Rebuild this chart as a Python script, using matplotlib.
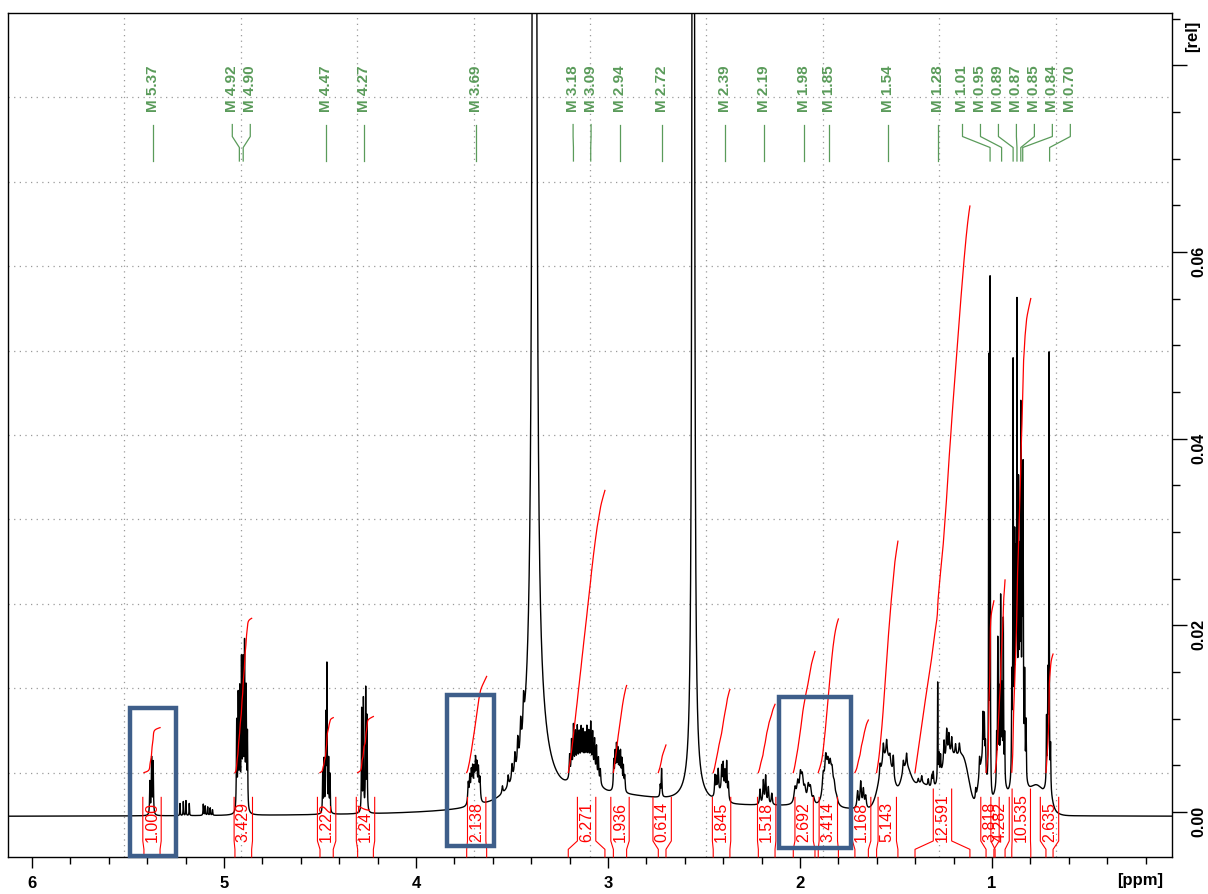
import numpy as np
import matplotlib.pyplot as plt
from matplotlib.patches import Rectangle

plt.rcParams['font.family'] = ['Liberation Sans', 'DejaVu Sans']

# ---------------- data ----------------
# sharp lines: position [ppm], height [rel], half width [ppm]
line_ppm = [3.383, 3.38, 2.556, 2.556, 3.00,
            5.386, 5.377, 5.369,
            5.229, 5.212, 5.198, 5.181, 5.108, 5.098, 5.085, 5.072, 5.060,
            4.934, 4.926, 4.918, 4.909, 4.901, 4.893, 4.885, 4.878,
            4.486, 4.479, 4.470, 4.464, 4.455, 4.448,
            4.283, 4.274, 4.262, 4.255,
            3.728, 3.720, 3.712, 3.705, 3.697, 3.690, 3.683, 3.675, 3.667,
            3.550, 3.520, 3.500, 3.485, 3.470, 3.455, 3.440,
            3.200, 3.190, 3.180, 3.170, 3.160, 3.150, 3.140, 3.130, 3.120,
            3.110, 3.100, 3.090, 3.080, 3.070, 3.060, 3.050, 3.040,
            2.970, 2.963, 2.956, 2.949, 2.942, 2.935, 2.928, 2.920, 2.913,
            2.728, 2.721,
            2.443, 2.435, 2.426, 2.408, 2.400, 2.391, 2.382, 2.373,
            2.208, 2.191, 2.179, 2.165, 2.147,
            2.026, 2.012, 1.998, 1.988, 1.975, 1.957, 1.946, 1.930,
            1.879, 1.866, 1.855, 1.843, 1.833, 1.822, 1.810,
            1.700, 1.684, 1.670, 1.658,
            1.583, 1.566, 1.549, 1.532, 1.514,
            1.462, 1.445, 1.384, 1.366, 1.332, 1.314, 1.306,
            1.283, 1.276, 1.268,
            1.250, 1.236, 1.225, 1.210, 1.190, 1.170,
            1.085, 1.065, 1.047, 1.040, 1.034,
            1.017, 1.010,
            0.976, 0.970, 0.963, 0.955, 0.948, 0.941, 0.934,
            0.897, 0.890, 0.882, 0.876, 0.870, 0.862, 0.856, 0.850, 0.843,
            0.838, 0.830, 0.823,
            0.716, 0.709, 0.703, 0.695]
line_height = [1.0, 0.010, 1.0, 0.0015, 0.0022,
               0.0035, 0.0060, 0.0056,
               0.0013, 0.0015, 0.0016, 0.0013, 0.0012, 0.0010, 0.0009, 0.0008, 0.0006,
               0.0095, 0.0120, 0.0125, 0.0155, 0.0152, 0.0172, 0.0125, 0.0080,
               0.0042, 0.0055, 0.0100, 0.0155, 0.0055, 0.0040,
               0.0110, 0.0120, 0.0130, 0.0100,
               0.0022, 0.0027, 0.0030, 0.0033, 0.0030, 0.0040, 0.0035, 0.0033, 0.0024,
               0.0008, 0.0012, 0.0016, 0.0020, 0.0026, 0.0030, 0.0032,
               0.0025, 0.0038, 0.0052, 0.0042, 0.0046, 0.0038, 0.0042, 0.0038, 0.0034,
               0.0042, 0.0038, 0.0050, 0.0042, 0.0038, 0.0034, 0.0025, 0.0016,
               0.0030, 0.0036, 0.0043, 0.0038, 0.0034, 0.0037, 0.0030, 0.0025, 0.0016,
               0.0012, 0.0030,
               0.0022, 0.0018, 0.0025, 0.0026, 0.0030, 0.0024, 0.0038, 0.0018,
               0.0016, 0.0025, 0.0030, 0.0018, 0.0012,
               0.0016, 0.0020, 0.0027, 0.0024, 0.0014, 0.0018, 0.0016, 0.0007,
               0.0022, 0.0034, 0.0024, 0.0024, 0.0021, 0.0013, 0.0005,
               0.0018, 0.0028, 0.0020, 0.0013,
               0.0012, 0.0018, 0.0016, 0.0008, 0.0022,
               0.0012, 0.0014, 0.0005, 0.0008, 0.0008, 0.0012, 0.0016,
               0.0105, 0.0025, 0.0020,
               0.0025, 0.0030, 0.0022, 0.0018, 0.0012, 0.0012,
               0.0010, 0.0018, 0.0050, 0.0052, 0.0030,
               0.046, 0.055,
               0.0050, 0.0150, 0.0090, 0.0190, 0.0090, 0.0170, 0.0050,
               0.010, 0.043, 0.022, 0.018, 0.046, 0.026, 0.018, 0.035, 0.026,
               0.030, 0.010, 0.006,
               0.0070, 0.0110, 0.046, 0.0045]
line_width = ([0.0036, 0.06, 0.0021, 0.05, 0.45]
              + [0.0018] * 3 + [0.0012] * 4 + [0.0015] * 5
              + [0.0018] * 8 + [0.0015] * 6 + [0.0015] * 4
              + [0.003] * 9 + [0.003] * 7 + [0.0025] * 17
              + [0.0025] * 9 + [0.002] * 2 + [0.0025] * 8 + [0.003] * 5
              + [0.006] * 8 + [0.006] * 7 + [0.004] * 4 + [0.003] * 5
              + [0.003] * 7 + [0.0012, 0.002, 0.002] + [0.003] * 6
              + [0.002] * 5 + [0.0012] * 2 + [0.0015] * 7
              + [0.0015] * 12 + [0.0015, 0.0015, 0.0012, 0.0015])

# broad envelopes: position [ppm], height [rel], sigma [ppm]
hump_ppm = [3.12, 2.41, 1.85, 2.00, 1.55, 1.45, 1.37, 1.22, 1.145, 1.05,
            0.955, 0.865, 0.77, 0.705]
hump_height = [0.0022, 0.0010, 0.0015, 0.0007, 0.0060, 0.0035, 0.0032, 0.0060,
               0.0045, 0.0055, 0.0035, 0.0060, 0.0032, 0.0015]
hump_sigma = [0.05, 0.02, 0.025, 0.35, 0.035, 0.025, 0.06, 0.045, 0.03, 0.02,
              0.03, 0.025, 0.05, 0.015]
baseline_offset = -0.0005

# integrals: left limit, right limit [ppm], value
int_left = [5.417, 4.943, 4.500, 4.304, 3.736, 3.207, 2.972, 2.738, 2.452, 2.217,
            2.035, 1.905, 1.714, 1.601, 1.401, 1.031, 0.984, 0.897, 0.719]
int_right = [5.333, 4.856, 4.431, 4.222, 3.632, 3.016, 2.903, 2.698, 2.365, 2.130,
             1.922, 1.800, 1.644, 1.490, 1.115, 0.990, 0.932, 0.798, 0.682]
int_value = [1.000, 3.429, 1.222, 1.247, 2.138, 6.271, 1.936, 0.614, 1.845, 1.518,
             2.692, 3.414, 1.168, 5.143, 12.591, 3.818, 4.282, 10.535, 2.635]

# peak picking labels
peak_ppm = [5.37, 4.92, 4.90, 4.47, 4.27, 3.69, 3.18, 3.09, 2.94, 2.72, 2.39, 2.19,
            1.98, 1.85, 1.54, 1.28, 1.01, 0.95, 0.89, 0.87, 0.85, 0.84, 0.70]

# highlighted regions: ppm from, ppm to, rel from, rel to
box_ppm_left = [5.488, 3.839, 2.111]
box_ppm_right = [5.249, 3.595, 1.733]
box_rel_low = [-0.0047, -0.0036, -0.0039]
box_rel_high = [0.0111, 0.0125, 0.0123]

# ---------------- build spectrum ----------------
ppm = np.linspace(6.125, 0.0625, 60001)
spec = np.full_like(ppm, baseline_offset)
for p, h, w in zip(line_ppm, line_height, line_width):
    spec += h * w ** 2 / (w ** 2 + (ppm - p) ** 2)
for p, h, s in zip(hump_ppm, hump_height, hump_sigma):
    spec += h * np.exp(-0.5 * ((ppm - p) / s) ** 2)

xmin, xmax = 6.125, 0.0625
ymin, ymax = -0.00482, 0.08561
px_ppm = 1140 / (xmin - xmax)        # pixels per ppm
px_rel = 844 / (ymax - ymin)         # pixels per rel unit

fig = plt.figure(figsize=(12.08, 8.94), dpi=100)
ax = fig.add_axes([8 / 1208, 37 / 894, 1164 / 1208, 844 / 894])
ax.set_xlim(xmin, xmax)
ax.set_ylim(ymin, ymax)

# dotted grid dividing the frame into 10 x 10
for k in range(1, 10):
    ax.axvline(xmin + k * (xmax - xmin) / 10, color='#9a9a9a', lw=0.9,
               ls=(0, (1, 3.5)), zorder=0)
    ax.axhline(ymin + k * (ymax - ymin) / 10, color='#9a9a9a', lw=0.9,
               ls=(0, (1, 3.5)), zorder=0)

ax.plot(ppm, spec, color='black', lw=1.0, zorder=3)

# integrals
red = '#ff0000'
int_start = 0.00422
int_unit = 45 / px_rel
for lft, rgt, val in zip(int_left, int_right, int_value):
    m = (ppm <= lft) & (ppm >= rgt)
    seg = spec[m] - baseline_offset
    cum = np.cumsum(seg)
    ax.plot(ppm[m], int_start + val * int_unit * cum / cum[-1], color=red, lw=0.9,
            zorder=4)

    label = f'{val:.3f}'
    xc = (lft + rgt) / 2
    hw = 9 / px_ppm
    y_txt = -0.0032
    y_top = y_txt + (len(label) * 8.3 + 3) / px_rel
    y_k1 = -0.0031
    y_k2 = -0.0040
    for xe, xb in ((xc + hw, lft), (xc - hw, rgt)):
        ax.plot([xe, xe, xb, xb], [y_top, y_k1, y_k2, ymin], color=red, lw=0.8,
                zorder=4, clip_on=False)
    ax.text(xc, y_txt, label, rotation=90, ha='center', va='bottom', color=red,
            fontsize=11.5, zorder=5)

# peak labels, spread apart when they crowd
green = '#5a9b5a'
gap = 17.6 / px_ppm
order = sorted(range(len(peak_ppm)), key=lambda i: -peak_ppm[i])
blocks = []
for i in order:
    blocks.append([-peak_ppm[i]])
    while len(blocks) > 1:
        prev, cur = blocks[-2], blocks[-1]
        prev_start = np.mean(prev) - (len(prev) - 1) * gap / 2
        cur_start = np.mean(cur) - (len(cur) - 1) * gap / 2
        if prev_start + len(prev) * gap > cur_start:
            blocks[-2:] = [prev + cur]
        else:
            break
label_pos = []
for b in blocks:
    start = np.mean(b) - (len(b) - 1) * gap / 2
    label_pos += [-(start + k * gap) for k in range(len(b))]

ya, yb, yc, yd = [(812 - v) / px_rel for v in (124.5, 136.5, 147.5, 161)]
for i, lx in zip(order, label_pos):
    p = peak_ppm[i]
    ax.text(lx, (812 - 112) / px_rel, f'M {p:.2f}', rotation=90, ha='center',
            va='bottom', color=green, fontsize=11, fontweight='bold', zorder=5)
    ax.plot([lx, lx, p, p], [ya, yb, yc, yd], color=green, lw=0.9, zorder=5)

# highlight boxes
for l, r, lo, hi in zip(box_ppm_left, box_ppm_right, box_rel_low, box_rel_high):
    ax.add_patch(Rectangle((r, lo), l - r, hi - lo, fill=False, edgecolor='#3e5e8a',
                           lw=3.2, zorder=6, clip_on=False))

# axes styling
ax.yaxis.tick_right()
ax.set_xticks([6, 5, 4, 3, 2, 1])
ax.set_xticklabels(['6', '5', '4', '3', '2', '1'])
ax.set_xticks(np.arange(0.2, 6.1, 0.2), minor=True)
ax.set_yticks([0.0, 0.02, 0.04, 0.06, 0.08])
ax.set_yticklabels(['0.00', '0.02', '0.04', '0.06', ''])
ax.set_yticks(np.arange(0.0, 0.086, 0.005), minor=True)
ax.tick_params(axis='x', which='major', length=8, width=1, pad=6, labelsize=12)
ax.tick_params(axis='x', which='minor', length=5, width=1)
ax.tick_params(axis='y', which='major', length=11, width=1, pad=3, labelsize=11.5,
               labelrotation=90)
ax.tick_params(axis='y', which='minor', length=6, width=1)
for lab in ax.get_xticklabels() + ax.get_yticklabels():
    lab.set_fontweight('bold')
for s in ax.spines.values():
    s.set_linewidth(1.0)

fig.text(1140 / 1208, 1 - 881 / 894, '[ppm]', ha='center', va='center',
         fontsize=12, fontweight='bold')
fig.text(1193 / 1208, 1 - 36 / 894, '[rel]', ha='center', va='center',
         rotation=90, fontsize=12, fontweight='bold')

fig.savefig('out.png', dpi=100)
